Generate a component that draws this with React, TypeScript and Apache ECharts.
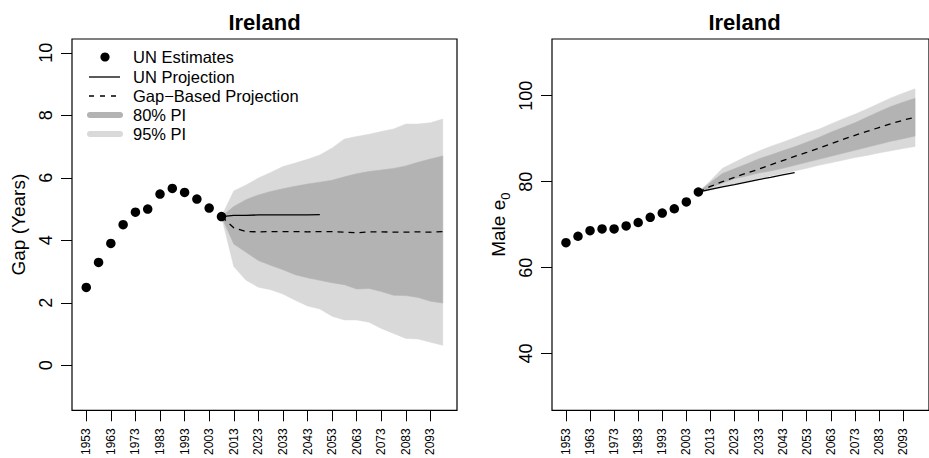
import React, { useEffect, useRef } from "react";
import * as echarts from "echarts";

// ---------- data ----------
const estYears = [1953, 1958, 1963, 1968, 1973, 1978, 1983, 1988, 1993, 1998, 2003, 2008];
const projYears = [2008, 2013, 2018, 2023, 2028, 2033, 2038, 2043, 2048, 2053, 2058, 2063, 2068, 2073, 2078, 2083, 2088, 2093, 2098];
const unProjYears = [2008, 2013, 2018, 2023, 2028, 2033, 2038, 2043, 2048];
const xTicks = [1953, 1963, 1973, 1983, 1993, 2003, 2013, 2023, 2033, 2043, 2053, 2063, 2073, 2083, 2093];
const gapTicks = [0, 2, 4, 6, 8, 10];
const e0Ticks = [40, 60, 80, 100];

// Left panel: gap (years)
const gapEst = [2.49, 3.29, 3.9, 4.5, 4.9, 5.0, 5.48, 5.66, 5.53, 5.32, 5.03, 4.76];
const gapUN = [4.76, 4.8, 4.8, 4.81, 4.81, 4.81, 4.81, 4.81, 4.82];
const gapMedian = [4.76, 4.4, 4.28, 4.27, 4.28, 4.28, 4.28, 4.27, 4.28, 4.28, 4.26, 4.24, 4.27, 4.27, 4.26, 4.26, 4.27, 4.26, 4.28];
const gapHi80 = [4.76, 5.08, 5.3, 5.45, 5.56, 5.65, 5.73, 5.8, 5.86, 5.92, 6.03, 6.13, 6.2, 6.25, 6.3, 6.38, 6.5, 6.6, 6.7];
const gapLo80 = [4.76, 3.88, 3.62, 3.35, 3.2, 3.06, 2.9, 2.8, 2.72, 2.64, 2.58, 2.44, 2.46, 2.36, 2.24, 2.23, 2.17, 2.05, 1.99];
const gapHi95 = [4.76, 5.58, 5.77, 5.99, 6.17, 6.36, 6.47, 6.59, 6.73, 6.95, 7.24, 7.32, 7.39, 7.48, 7.56, 7.72, 7.72, 7.76, 7.88];
const gapLo95 = [4.76, 3.16, 2.72, 2.5, 2.42, 2.28, 2.08, 1.9, 1.8, 1.57, 1.45, 1.45, 1.38, 1.18, 1.02, 0.86, 0.84, 0.74, 0.64];

// Right panel: male e0
const e0Est = [65.8, 67.3, 68.6, 69.0, 69.0, 69.7, 70.5, 71.7, 72.7, 73.7, 75.3, 77.6];
const e0UN = [77.6, 78.2, 78.8, 79.3, 79.9, 80.5, 81.0, 81.6, 82.1];
const e0Median = [77.6, 78.9, 80.0, 81.0, 82.0, 82.9, 83.9, 84.9, 85.9, 86.8, 87.8, 88.8, 89.8, 90.8, 91.7, 92.6, 93.5, 94.3, 95.0];
const e0Hi80 = [77.6, 79.8, 81.9, 83.0, 84.1, 85.3, 86.2, 87.2, 88.1, 89.2, 90.3, 91.5, 92.6, 93.7, 95.0, 96.3, 97.5, 98.5, 99.4];
const e0Lo80 = [77.6, 78.6, 79.7, 80.7, 81.3, 82.0, 82.5, 83.1, 83.8, 84.5, 85.2, 85.9, 86.6, 87.3, 88.0, 88.7, 89.4, 90.0, 90.6];
const e0Hi95 = [77.6, 80.2, 83.1, 84.5, 85.9, 87.1, 88.2, 89.2, 90.2, 91.3, 92.2, 93.4, 94.6, 95.7, 96.9, 98.2, 99.5, 100.6, 101.6];
const e0Lo95 = [77.6, 78.0, 78.8, 79.5, 80.0, 80.6, 81.3, 81.9, 82.5, 83.1, 83.8, 84.4, 85.0, 85.6, 86.1, 86.7, 87.2, 87.7, 88.2];

const legendLabels = ["UN Estimates", "UN Projection", "Gap\u2212Based Projection", "80% PI", "95% PI"];

// ---------- styles ----------
const FONT = '"Liberation Sans", Arial, Helvetica, sans-serif';
const C80 = "#b3b3b3";
const C95 = "#d9d9d9";

const pairs = (xs: number[], ys: number[]) => xs.map((x, i) => [x, ys[i]]);

function band(idx: number, lo: number[], hi: number[], color: string, name: string) {
  return {
    type: "custom",
    name,
    xAxisIndex: idx,
    yAxisIndex: idx,
    z: 1,
    silent: true,
    data: [[projYears[0], lo[0]]],
    renderItem: (_p: any, api: any) => {
      const pts: number[][] = [];
      projYears.forEach((y, i) => pts.push(api.coord([y, hi[i]])));
      for (let i = projYears.length - 1; i >= 0; i--) pts.push(api.coord([projYears[i], lo[i]]));
      return {
        type: "polygon",
        shape: { points: pts },
        style: { fill: color, stroke: color, lineWidth: 0.5 },
      };
    },
  };
}

function lineSeries(idx: number, xs: number[], ys: number[], dashed: boolean, name: string) {
  return {
    type: "line",
    name,
    xAxisIndex: idx,
    yAxisIndex: idx,
    z: 3,
    data: pairs(xs, ys),
    symbol: "none",
    lineStyle: { color: "#000", width: 1.3, type: dashed ? [6, 5] : "solid" },
  };
}

function pointSeries(idx: number, ys: number[]) {
  return {
    type: "scatter",
    name: "UN Estimates",
    xAxisIndex: idx,
    yAxisIndex: idx,
    z: 4,
    data: pairs(estYears, ys),
    symbol: "circle",
    symbolSize: 9.5,
    itemStyle: { color: "#000", opacity: 1 },
  };
}

function xAxis(idx: number) {
  return {
    type: "value",
    gridIndex: idx,
    min: 1947.2,
    max: 2103.8,
    axisLine: { show: false, onZero: false },
    splitLine: { show: false },
    axisTick: { show: true, length: 11, lineStyle: { color: "#000", width: 1 }, customValues: xTicks },
    axisLabel: {
      customValues: xTicks,
      rotate: 90,
      fontSize: 12,
      color: "#000",
      margin: 18,
      fontFamily: FONT,
      formatter: (v: number) => String(v),
    },
  };
}

function yAxis(idx: number, min: number, max: number, ticks: number[], name: string, rich?: any) {
  return {
    type: "value",
    gridIndex: idx,
    min,
    max,
    axisLine: { show: false, onZero: false },
    splitLine: { show: false },
    axisTick: { show: true, length: 11, lineStyle: { color: "#000", width: 1 }, customValues: ticks },
    axisLabel: {
      customValues: ticks,
      rotate: 90,
      fontSize: 18,
      color: "#000",
      margin: 17,
      fontFamily: FONT,
      formatter: (v: number) => String(v),
    },
    name,
    nameLocation: "middle",
    nameRotate: 90,
    nameGap: 44,
    nameTextStyle: { fontSize: 19, color: "#000", fontFamily: FONT, rich },
  };
}

const LX = 89; // legend symbol start
const legendY = [57, 77, 96, 115, 134];

const legendGraphic: any[] = [
  { type: "circle", shape: { cx: 105, cy: legendY[0], r: 4.6 }, style: { fill: "#000" } },
  { type: "line", shape: { x1: LX, y1: legendY[1], x2: LX + 31, y2: legendY[1] }, style: { stroke: "#000", lineWidth: 1.3 } },
  { type: "line", shape: { x1: LX, y1: legendY[2], x2: LX + 31, y2: legendY[2] }, style: { stroke: "#000", lineWidth: 1.3, lineDash: [5, 6] } },
  { type: "line", shape: { x1: LX + 1, y1: legendY[3], x2: LX + 31, y2: legendY[3] }, style: { stroke: C80, lineWidth: 6, lineCap: "round" } },
  { type: "line", shape: { x1: LX + 1, y1: legendY[4], x2: LX + 31, y2: legendY[4] }, style: { stroke: C95, lineWidth: 6, lineCap: "round" } },
  ...legendLabels.map((t, i) => ({
    type: "text",
    x: 133,
    y: legendY[i],
    style: { text: t, fill: "#000", font: `16.5px ${FONT}`, align: "left", verticalAlign: "middle" },
  })),
];

const titleGraphic: any[] = [
  { type: "text", x: 264.5, y: 22, style: { text: "Ireland", fill: "#000", font: `bold 22px ${FONT}`, align: "center", verticalAlign: "middle" } },
  { type: "text", x: 744.5, y: 22, style: { text: "Ireland", fill: "#000", font: `bold 22px ${FONT}`, align: "center", verticalAlign: "middle" } },
];

const option: any = {
  animation: false,
  backgroundColor: "#fff",
  textStyle: { fontFamily: FONT },
  grid: [
    { left: 72, top: 39, width: 385, height: 372, show: true, borderColor: "#000", borderWidth: 1.2, backgroundColor: "transparent" },
    { left: 552, top: 39, width: 385, height: 372, show: true, borderColor: "#000", borderWidth: 1.2, backgroundColor: "transparent" },
  ],
  xAxis: [xAxis(0), xAxis(1)],
  yAxis: [
    yAxis(0, -1.44, 10.44, gapTicks, "Gap (Years)"),
    yAxis(1, 26.8, 113.2, e0Ticks, "Male e{sub|0}", {
      sub: { fontSize: 13, color: "#000", fontFamily: FONT, verticalAlign: "bottom", lineHeight: 14, padding: [0, 0, -4, 0] },
    }),
  ],
  series: [
    band(0, gapLo95, gapHi95, C95, "95% PI"),
    band(0, gapLo80, gapHi80, C80, "80% PI"),
    lineSeries(0, unProjYears, gapUN, false, "UN Projection"),
    lineSeries(0, projYears, gapMedian, true, "Gap\u2212Based Projection"),
    pointSeries(0, gapEst),
    band(1, e0Lo95, e0Hi95, C95, "95% PI"),
    band(1, e0Lo80, e0Hi80, C80, "80% PI"),
    lineSeries(1, unProjYears, e0UN, false, "UN Projection"),
    lineSeries(1, projYears, e0Median, true, "Gap\u2212Based Projection"),
    pointSeries(1, e0Est),
  ],
  graphic: [...titleGraphic, ...legendGraphic],
};

export default function App() {
  const ref = useRef<HTMLDivElement>(null);
  useEffect(() => {
    const chart = echarts.init(ref.current as HTMLDivElement, null, { renderer: "svg" });
    chart.setOption(option);
    return () => chart.dispose();
  }, []);
  return (
    <div
      ref={ref}
      style={{ position: "fixed", left: 0, top: 0, width: 929, height: 458, overflow: "hidden", background: "#fff" }}
    />
  );
}
